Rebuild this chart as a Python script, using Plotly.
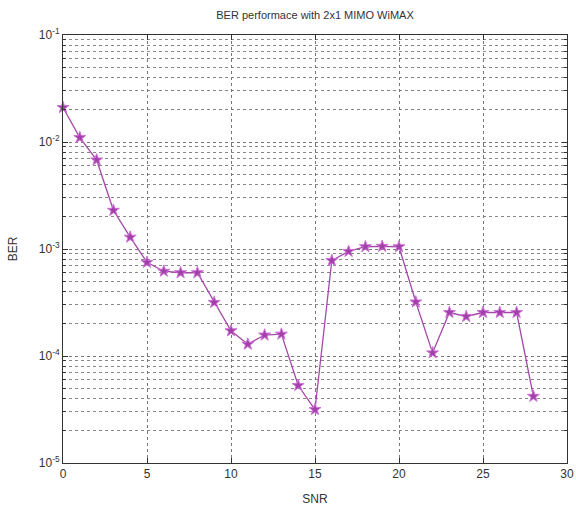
import plotly.graph_objects as go

snr = list(range(0, 29))
ber = [2.1e-2, 1.1e-2, 6.8e-3, 2.3e-3, 1.29e-3, 7.5e-4, 6.2e-4, 6.0e-4, 6.0e-4,
       3.17e-4, 1.72e-4, 1.29e-4, 1.57e-4, 1.60e-4, 5.3e-5, 3.16e-5,
       7.8e-4, 9.5e-4, 1.05e-3, 1.06e-3, 1.05e-3, 3.2e-4, 1.07e-4,
       2.55e-4, 2.34e-4, 2.55e-4, 2.55e-4, 2.55e-4, 4.2e-5]

x_ticks = [0, 5, 10, 15, 20, 25, 30]
decades = [-5, -4, -3, -2]
y_major = [1e-5, 1e-4, 1e-3, 1e-2, 1e-1]
y_major_text = ["10<sup>-5</sup>", "10<sup>-4</sup>", "10<sup>-3</sup>", "10<sup>-2</sup>", "10<sup>-1</sup>"]
y_minor = [m * 10.0 ** d for d in decades for m in range(2, 10)]

fig = go.Figure()
fig.add_trace(go.Scatter(
    x=snr, y=ber, mode="lines+markers",
    line=dict(color="#a348a8", width=1.3),
    marker=dict(symbol="star", size=9, color="#a040a8",
                line=dict(color="#d070d8", width=1)),
    showlegend=False, cliponaxis=False,
))

font = dict(family="Liberation Sans, Arial, sans-serif", size=12, color="#333333")

fig.update_layout(
    width=576, height=508,
    margin=dict(l=63, r=9, t=35, b=45),
    paper_bgcolor="white", plot_bgcolor="white",
    font=font,
    title=dict(text="BER performace with 2x1 MIMO WiMAX", xref="paper", x=0.5, xanchor="center",
               y=1 - 15 / 508, yanchor="middle", font=dict(size=11, color="#333333")),
    xaxis=dict(
        range=[0, 30], tickvals=x_ticks, ticktext=[str(v) for v in x_ticks],
        showline=True, linecolor="#333333", linewidth=1, mirror="ticks",
        ticks="inside", ticklen=5, tickcolor="#333333",
        showgrid=True, gridcolor="#777777", griddash="dot", gridwidth=1,
        zeroline=False, automargin=False,
        title=dict(text="SNR", standoff=14, font=dict(size=12)),
    ),
    yaxis=dict(
        type="log", range=[-5, -1], tickmode="array", tickvals=y_major, ticktext=y_major_text,
        showline=True, linecolor="#333333", linewidth=1, mirror="ticks",
        ticks="inside", ticklen=5, tickcolor="#333333",
        showgrid=True, gridcolor="#777777", griddash="dot", gridwidth=1,
        zeroline=False, automargin=False,
        minor=dict(tickmode="array", tickvals=y_minor, ticks="inside", ticklen=3,
                   tickcolor="#333333", showgrid=True, gridcolor="#888888",
                   griddash="dot", gridwidth=1),
        title=dict(text="BER", standoff=18, font=dict(size=12)),
    ),
)

fig.write_html("out.html")
